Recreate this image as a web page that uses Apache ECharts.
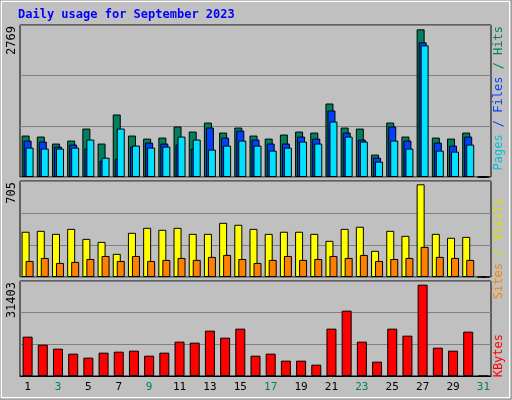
<!DOCTYPE html>
<html>
<head>
<meta charset="utf-8">
<script src="https://cdn.jsdelivr.net/npm/echarts@6/dist/echarts.min.js"></script>
<style>
  html, body { margin: 0; padding: 0; background: #c0c0c0; }
  #chart { width: 512px; height: 400px; }
</style>
</head>
<body>
<div id="chart"></div>
<script>
// values
var days = ['1','2','3','4','5','6','7','8','9','10','11','12','13','14','15','16','17','18','19','20','21','22','23','24','25','26','27','28','29','30','31'];
var weekend = ['2','3','9','10','16','17','23','24','30','31'];
var hits = [777,758,627,683,908,627,1172,777,720,739,946,852,1021,833,927,777,720,796,852,833,1378,927,908,420,1021,758,2769,739,720,833,0];
var files = [683,664,570,608,533,307,345,570,645,627,608,533,927,739,871,702,627,627,758,720,1247,833,702,363,946,683,2525,645,589,758,0];
var pages = [551,533,533,551,702,363,908,589,551,570,758,702,514,589,683,589,495,551,664,627,1040,758,664,288,683,533,2468,495,476,608,0];
var visits = [344,351,328,366,290,267,176,336,374,359,374,328,328,412,397,366,328,344,344,328,275,366,382,199,351,313,705,328,298,305,0];
var sites = [122,145,107,115,137,160,122,160,122,130,145,130,153,168,137,107,130,160,130,137,160,145,168,122,137,145,229,153,145,130,0];
var kbytes = [13523,10772,9397,7678,6303,8022,8366,8710,6991,8022,11804,11460,15586,13179,16273,6991,7678,5272,5272,3896,16273,22462,11804,4928,16273,13867,31403,9741,8710,15242,0];
var topMax = [2850, 730, 32663];
var maxLabels = ['2769', '705', '31403'];

var chart = echarts.init(document.getElementById('chart'));
var font = 'DejaVu Sans Mono, monospace';
var grids = [
    { left: 20, right: 21, top: 25, height: 152 },
    { left: 20, right: 21, top: 181, height: 96 },
    { left: 20, right: 21, top: 281, height: 95 }
];

function xAxis(i) {
    return {
        type: 'category', gridIndex: i, data: days,
        axisLine: { show: i === 2, lineStyle: { color: '#000' } },
        axisTick: { show: false },
        axisLabel: {
            show: i === 2, fontFamily: font, fontSize: 11, margin: 6,
            color: function (v) { return weekend.indexOf(v) >= 0 ? '#00805c' : '#000'; }
        }
    };
}
function yAxis(i) {
    return {
        type: 'value', gridIndex: i, min: 0, max: topMax[i], interval: topMax[i] / 3,
        axisLabel: { show: false }, axisLine: { show: false }, axisTick: { show: false },
        splitLine: { lineStyle: { color: '#808080', width: 1 } }
    };
}
function bar(name, data, color, i, width, gap) {
    return {
        name: name, type: 'bar', data: data, xAxisIndex: i, yAxisIndex: i,
        barWidth: width, barGap: gap, animation: false,
        itemStyle: { color: color, borderColor: '#000', borderWidth: 1 }
    };
}
function vtext(x, y, rich, parts) {
    return {
        type: 'text', x: x, y: y, rotation: Math.PI / 2,
        style: { text: parts, rich: rich, font: '12px ' + font, align: 'right', verticalAlign: 'middle' }
    };
}

var rich = {
    g: { fill: '#00805c', fontFamily: font, fontSize: 12 },
    b: { fill: '#0040ff', fontFamily: font, fontSize: 12 },
    c: { fill: '#00c0e0', fontFamily: font, fontSize: 12 },
    y: { fill: '#e0e000', fontFamily: font, fontSize: 12 },
    o: { fill: '#ff8000', fontFamily: font, fontSize: 12 },
    r: { fill: '#ff0000', fontFamily: font, fontSize: 12 }
};

var option = {
    backgroundColor: '#c0c0c0',
    grid: grids.map(function (g) { return Object.assign({ show: true, borderColor: '#000', borderWidth: 1, backgroundColor: 'transparent' }, g); }),
    xAxis: [xAxis(0), xAxis(1), xAxis(2)],
    yAxis: [yAxis(0), yAxis(1), yAxis(2)],
    series: [
        bar('Hits', hits, '#00805c', 0, 8, '-75%'),
        bar('Files', files, '#0040ff', 0, 8, '-75%'),
        bar('Pages', pages, '#00e0ff', 0, 8, '-75%'),
        bar('Visits', visits, '#ffff00', 1, 8, '-50%'),
        bar('Sites', sites, '#ff8000', 1, 8, '-50%'),
        bar('KBytes', kbytes, '#ff0000', 2, 10, '0%')
    ],
    graphic: [
        { type: 'rect', shape: { x: 1, y: 1, width: 509, height: 397 }, style: { fill: 'none', stroke: '#fff', lineWidth: 2 } },
        { type: 'rect', shape: { x: 0, y: 0, width: 511, height: 399 }, style: { fill: 'none', stroke: '#808080', lineWidth: 1 } },
        { type: 'text', x: 18, y: 9, style: { text: 'Daily usage for September 2023', fill: '#0000ff', font: 'bold 12px ' + font } },
        { type: 'text', x: 12, y: 26, rotation: Math.PI / 2, style: { text: maxLabels[0], fill: '#000', font: '12px ' + font, align: 'right', verticalAlign: 'middle' } },
        { type: 'text', x: 12, y: 182, rotation: Math.PI / 2, style: { text: maxLabels[1], fill: '#000', font: '12px ' + font, align: 'right', verticalAlign: 'middle' } },
        { type: 'text', x: 12, y: 282, rotation: Math.PI / 2, style: { text: maxLabels[2], fill: '#000', font: '12px ' + font, align: 'right', verticalAlign: 'middle' } },
        vtext(499, 26, rich, '{c|Pages} {b|/} {b|Files} {g|/} {g|Hits}'),
        vtext(499, 198, rich, '{o|Sites} {y|/} {y|Visits}'),
        vtext(499, 334, rich, '{r|KBytes}')
    ]
};
chart.setOption(option);
window.addEventListener('resize', function () {
    chart.resize();
});
</script>
</body>
</html>
